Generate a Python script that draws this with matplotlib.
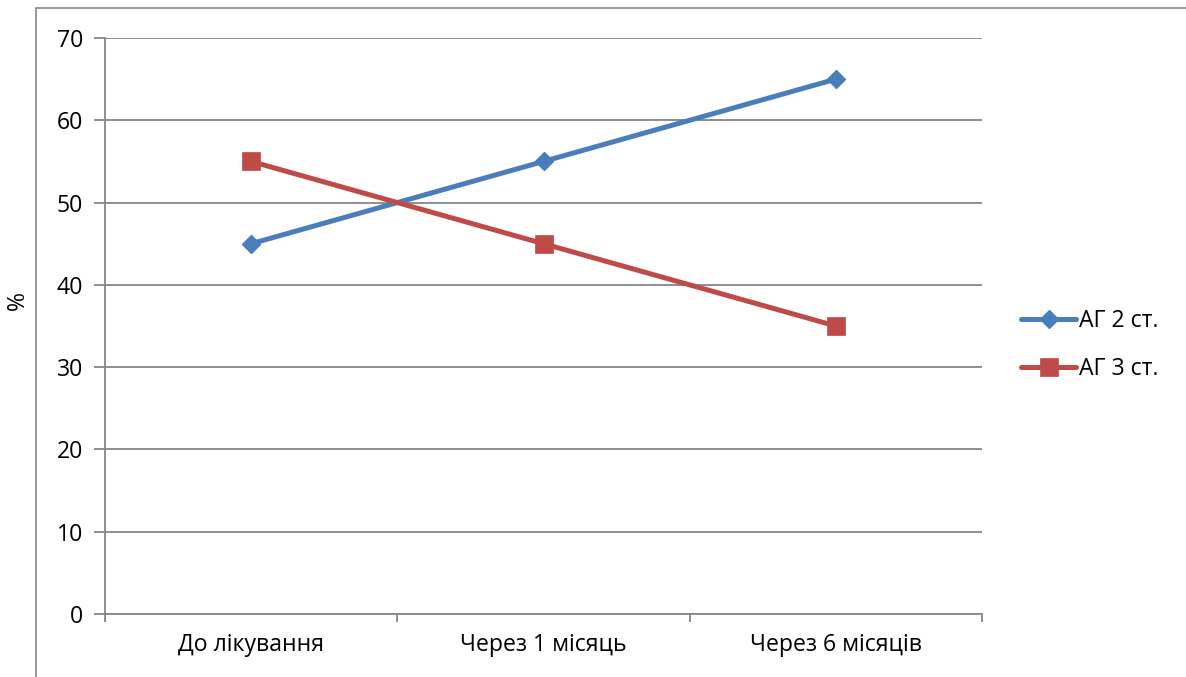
import matplotlib
matplotlib.use("Agg")
import matplotlib.pyplot as plt
from matplotlib.patches import Rectangle
from matplotlib.ticker import FixedLocator, NullFormatter

plt.rcParams['font.family'] = ['Open Sans', 'DejaVu Sans']

categories = ["До лікування", "Через 1 місяць", "Через 6 місяців"]
series_names = ["АГ 2 ст.", "АГ 3 ст."]
ag2 = [45, 55, 65]
ag3 = [55, 45, 35]
y_ticks = [0, 10, 20, 30, 40, 50, 60, 70]

W, H = 1186, 677
fig = plt.figure(figsize=(W / 100, H / 100), dpi=100)
grey = "#868686"
fs = 16.6

# outer chart border (extends past the right and bottom edges)
fig.patches.append(Rectangle((36 / W, -0.2), 2.0, 1 - 8 / H + 0.2,
                             transform=fig.transFigure, fill=False,
                             edgecolor=grey, linewidth=1.2))

ax = fig.add_axes([105 / W, 1 - 614 / H, (982 - 105) / W, (614 - 38) / H])
x = [i + 0.5 for i in range(len(categories))]

ax.plot(x, ag2, color="#4A7EBB", lw=3.6, marker="D", markersize=9,
        markerfacecolor="#4A7EBB", markeredgecolor="#4A7EBB", label=series_names[0],
        solid_capstyle="round", zorder=3)
ax.plot(x, ag3, color="#BE4B48", lw=3.6, marker="s", markersize=13,
        markerfacecolor="#BE4B48", markeredgecolor="#BE4B48", markeredgewidth=0.5,
        label=series_names[1], solid_capstyle="round", zorder=3)

ax.set_xlim(0, 3)
ax.set_ylim(0, 70)
ax.set_yticks(y_ticks)
ax.yaxis.grid(True, color=grey, lw=1.3)
ax.set_axisbelow(True)

ax.xaxis.set_major_locator(FixedLocator([0, 1, 2, 3]))
ax.xaxis.set_major_formatter(NullFormatter())
ax.xaxis.set_minor_locator(FixedLocator(x))
ax.set_xticklabels(categories, minor=True)
ax.tick_params(axis="x", which="major", direction="out", length=6, width=1.3, color=grey)
ax.tick_params(axis="x", which="minor", length=0, pad=14, labelsize=fs)
ax.tick_params(axis="y", direction="out", length=8, width=1.3, color=grey, pad=8, labelsize=fs)

for side in ("top", "right"):
    ax.spines[side].set_visible(False)
for side in ("left", "bottom"):
    ax.spines[side].set_color(grey)
    ax.spines[side].set_linewidth(1.3)

fig.text(18 / W, 1 - 300 / H, "%", rotation=90, fontsize=fs, ha="center", va="center")

ax.legend(loc="center left", bbox_to_anchor=(1021 / W, 1 - 345 / H),
          bbox_transform=fig.transFigure, frameon=False, fontsize=fs,
          handlelength=2.4, handletextpad=0.12, labelspacing=1.05,
          borderpad=0, borderaxespad=0)

fig.savefig("out.png", dpi=100, facecolor="white")
